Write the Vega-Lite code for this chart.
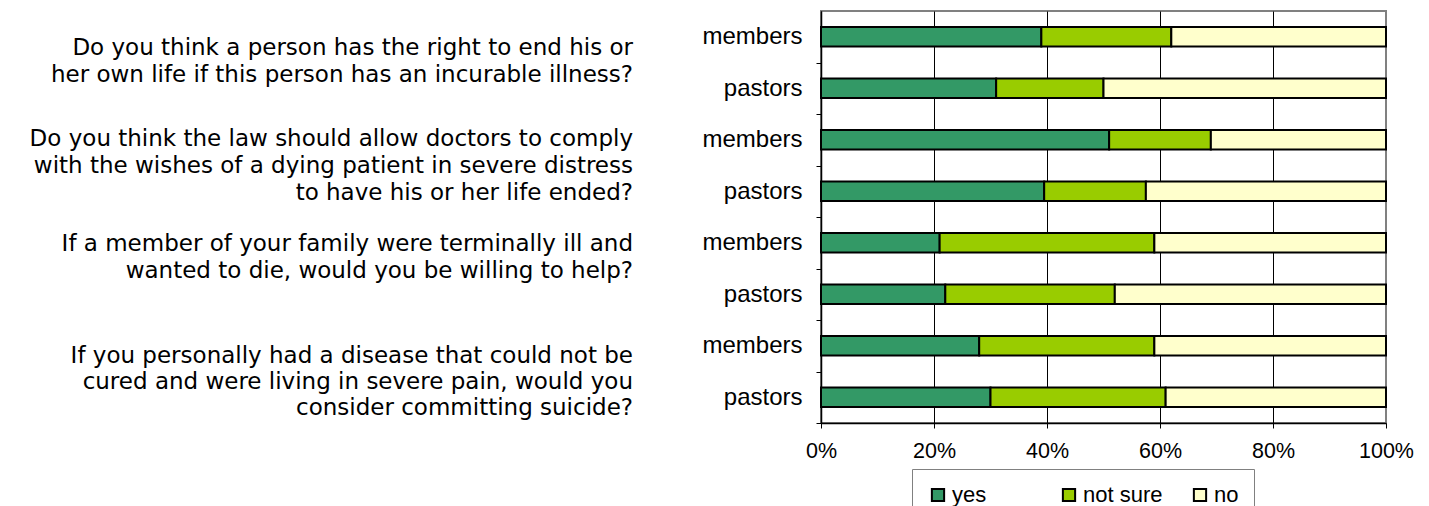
{
  "$schema": "https://vega.github.io/schema/vega-lite/v6.json",
  "padding": {"left": 0, "top": 10, "right": 0, "bottom": 0},
  "background": "white",
  "config": {
    "font": "Liberation Sans",
    "text": {"font": "Liberation Sans"}
  },
  "bounds": "flush",
  "spacing": 188,
  "datasets": {
    "bars": [
      {"row": "q1 members", "answer": "yes", "ord": 1, "pct": 39},
      {"row": "q1 members", "answer": "not sure", "ord": 2, "pct": 23},
      {"row": "q1 members", "answer": "no", "ord": 3, "pct": 38},
      {"row": "q1 pastors", "answer": "yes", "ord": 1, "pct": 31},
      {"row": "q1 pastors", "answer": "not sure", "ord": 2, "pct": 19},
      {"row": "q1 pastors", "answer": "no", "ord": 3, "pct": 50},
      {"row": "q2 members", "answer": "yes", "ord": 1, "pct": 51},
      {"row": "q2 members", "answer": "not sure", "ord": 2, "pct": 18},
      {"row": "q2 members", "answer": "no", "ord": 3, "pct": 31},
      {"row": "q2 pastors", "answer": "yes", "ord": 1, "pct": 39.5},
      {"row": "q2 pastors", "answer": "not sure", "ord": 2, "pct": 18},
      {"row": "q2 pastors", "answer": "no", "ord": 3, "pct": 42.5},
      {"row": "q3 members", "answer": "yes", "ord": 1, "pct": 21},
      {"row": "q3 members", "answer": "not sure", "ord": 2, "pct": 38},
      {"row": "q3 members", "answer": "no", "ord": 3, "pct": 41},
      {"row": "q3 pastors", "answer": "yes", "ord": 1, "pct": 22},
      {"row": "q3 pastors", "answer": "not sure", "ord": 2, "pct": 30},
      {"row": "q3 pastors", "answer": "no", "ord": 3, "pct": 48},
      {"row": "q4 members", "answer": "yes", "ord": 1, "pct": 28},
      {"row": "q4 members", "answer": "not sure", "ord": 2, "pct": 31},
      {"row": "q4 members", "answer": "no", "ord": 3, "pct": 41},
      {"row": "q4 pastors", "answer": "yes", "ord": 1, "pct": 30},
      {"row": "q4 pastors", "answer": "not sure", "ord": 2, "pct": 31},
      {"row": "q4 pastors", "answer": "no", "ord": 3, "pct": 39}
    ],
    "questions": [
      {"pos": 0.72, "line": "Do you think a person has the right to end his or"},
      {"pos": 1.24, "line": "her own life if this person has an incurable illness?"},
      {"pos": 2.49, "line": "Do you think the law should allow doctors to comply"},
      {"pos": 3.01, "line": "with the wishes of a dying patient in severe distress"},
      {"pos": 3.53, "line": "to have his or her life ended?"},
      {"pos": 4.52, "line": "If a member of your family were terminally ill and"},
      {"pos": 5.04, "line": "wanted to die, would you be willing to help?"},
      {"pos": 6.69, "line": "If you personally had a disease that could not be"},
      {"pos": 7.2, "line": "cured and were living in severe pain, would you"},
      {"pos": 7.71, "line": "consider committing suicide?"}
    ]
  },
  "hconcat": [
    {
      "width": 633,
      "height": 412,
      "view": {"stroke": null},
      "data": {"name": "questions"},
      "mark": {"type": "text", "align": "right", "baseline": "middle", "fontSize": 23, "font": "DejaVu Sans", "color": "black"},
      "encoding": {
        "x": {"datum": 1, "type": "quantitative", "scale": {"domain": [0, 1], "nice": false, "zero": false}, "axis": null},
        "y": {"field": "pos", "type": "quantitative", "scale": {"domain": [0, 8], "reverse": true, "nice": false}, "axis": null},
        "text": {"field": "line"}
      }
    },
    {
      "width": 565,
      "height": 412,
      "view": {"stroke": "#808080", "strokeWidth": 2},
      "data": {"name": "bars"},
      "mark": {"type": "bar", "stroke": "black", "strokeWidth": 2},
      "encoding": {
        "y": {
          "field": "row",
          "type": "nominal",
          "sort": null,
          "scale": {"paddingInner": 0.62, "paddingOuter": 0.31},
          "axis": {
            "title": null,
            "labelExpr": "slice(datum.value, 3)",
            "labelFontSize": 24,
            "labelColor": "black",
            "labelPadding": 14,
            "tickSize": 5,
            "tickColor": "black",
            "tickOffset": 25.75,
            "labelOffset": -25.75,
            "domainColor": "black",
            "domainWidth": 1.5,
            "grid": false
          }
        },
        "x": {
          "field": "pct",
          "type": "quantitative",
          "stack": "normalize",
          "scale": {"domain": [0, 1], "nice": false},
          "axis": {
            "title": null,
            "values": [0, 0.2, 0.4, 0.6, 0.8, 1],
            "format": ".0%",
            "labelFlush": false,
            "labelFontSize": 21.5,
            "labelColor": "black",
            "labelPadding": 12,
            "tickSize": 5,
            "tickColor": "black",
            "domainColor": "black",
            "domainWidth": 1.5,
            "grid": true,
            "gridColor": {"condition": {"test": "datum.value === 1", "value": "#808080"}, "value": "black"},
            "gridWidth": 1,
            "gridOpacity": 1
          }
        },
        "color": {
          "field": "answer",
          "type": "nominal",
          "scale": {"domain": ["yes", "not sure", "no"], "range": ["#339966", "#99CC00", "#FFFFCC"]},
          "legend": {
            "title": null,
            "orient": "none",
            "legendX": 912,
            "legendY": 458,
            "direction": "horizontal",
            "strokeColor": "#808080",
            "padding": 15,
            "labelFontSize": 22,
            "labelColor": "black",
            "labelOffset": 3,
            "symbolType": "square",
            "symbolSize": 150,
            "symbolStrokeColor": "black",
            "symbolStrokeWidth": 2,
            "columnPadding": 26,
            "gridAlign": "all"
          }
        },
        "order": {"field": "ord", "type": "quantitative"}
      }
    }
  ]
}
